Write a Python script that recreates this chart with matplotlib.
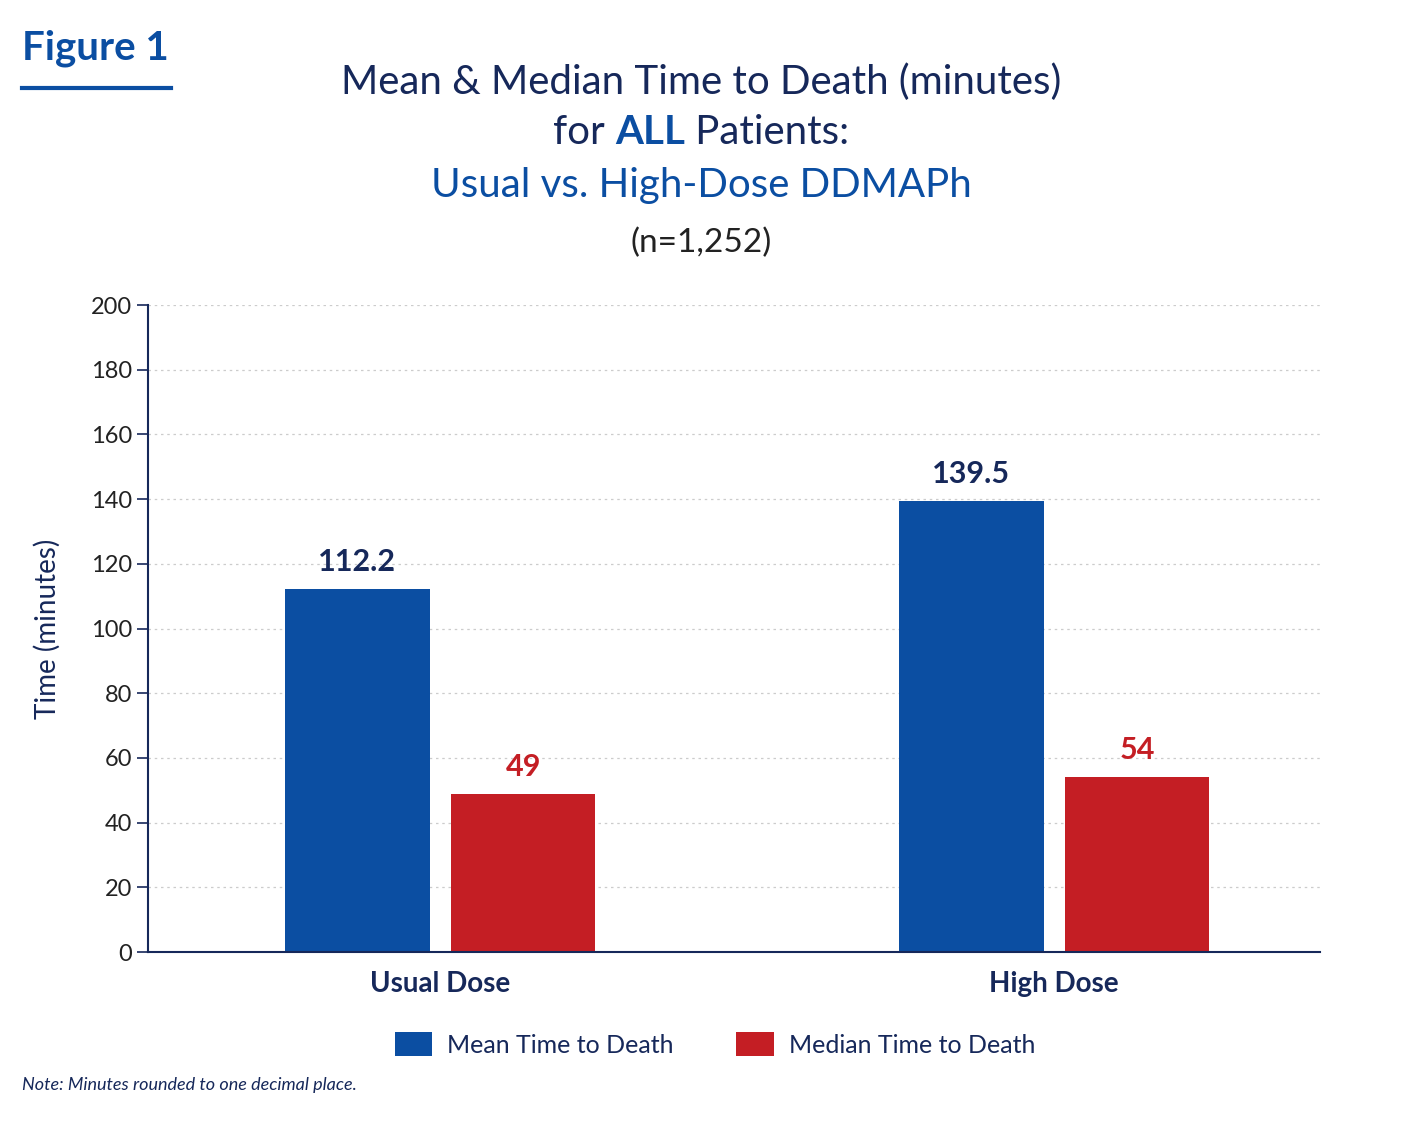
import matplotlib
matplotlib.use("Agg")
import matplotlib.pyplot as plt
import numpy as np

groups = ["Usual Dose", "High Dose"]
mean_vals = [112.2, 139.5]
median_vals = [49, 54]
mean_labels = ["112.2", "139.5"]
median_labels = ["49", "54"]
yticks = [0, 20, 40, 60, 80, 100, 120, 140, 160, 180, 200]

NAVY = "#16285a"
BLUE = "#0b4ea2"
RED = "#c41e24"
plt.rcParams["font.family"] = ["Lato", "DejaVu Sans"]

fig = plt.figure(figsize=(14.02, 11.22), dpi=100)
ax = fig.add_axes([0.1056, 0.1515, 0.836, 0.5766])

x = np.arange(len(groups))
off, w = 0.135, 0.235
b1 = ax.bar(x - off, mean_vals, w, color=BLUE, label="Mean Time to Death")
b2 = ax.bar(x + off, median_vals, w, color=RED, label="Median Time to Death")
for xi, v, t in zip(x - off, mean_vals, mean_labels):
    ax.text(xi, v + 4, t, ha="center", va="bottom", fontsize=22, fontweight="bold", color=NAVY)
for xi, v, t in zip(x + off, median_vals, median_labels):
    ax.text(xi, v + 4, t, ha="center", va="bottom", fontsize=22, fontweight="bold", color=RED)

ax.set_xlim(-0.476, 1.433)
ax.set_ylim(0, 200)
ax.set_yticks(yticks)
ax.tick_params(axis="y", labelsize=17, colors="#222222", length=8, width=1.2, direction="out")
ax.tick_params(axis="y", colors=NAVY, labelcolor="#222222")
ax.set_xticks(x)
ax.set_xticklabels(groups, fontsize=20, fontweight="bold", color=NAVY)
ax.tick_params(axis="x", length=0, pad=14)
ax.grid(axis="y", linestyle=(0, (2, 3)), color="#cccccc", linewidth=0.9)
ax.set_axisbelow(True)
for s in ["top", "right"]:
    ax.spines[s].set_visible(False)
for s in ["left", "bottom"]:
    ax.spines[s].set_color(NAVY)
    ax.spines[s].set_linewidth(1.5)
ax.set_ylabel("Time (minutes)", fontsize=20, color=NAVY, labelpad=22)

leg = fig.legend(handles=[b1, b2], loc="center", bbox_to_anchor=(0.51, 0.069), ncol=2,
                 frameon=False, fontsize=18, handlelength=1.5, handleheight=1.1,
                 columnspacing=2.5, handletextpad=0.6)
for t in leg.get_texts():
    t.set_color(NAVY)

# header
fig.text(22 / 1402, 1 - 48 / 1122, "Figure 1", fontsize=29, fontweight="bold", color=BLUE, va="center")
fig.add_artist(plt.Line2D([22 / 1402, 171 / 1402], [1 - 88 / 1122] * 2, color=BLUE, lw=3))
fig.text(0.5, 1 - 82 / 1122, "Mean & Median Time to Death (minutes)", fontsize=29, color=NAVY, ha="center", va="center")
fig.text(0.5, 1 - 186 / 1122, "Usual vs. High-Dose DDMAPh", fontsize=29, color=BLUE, ha="center", va="center")
fig.text(0.5, 1 - 243 / 1122, "(n=1,252)", fontsize=24, color="#222222", ha="center", va="center")

# mixed-style line 2
y2 = 1 - 133 / 1122
parts = [("for ", "normal", NAVY), ("ALL", "bold", BLUE), (" Patients:", "normal", NAVY)]
texts = [fig.text(0, y2, p, fontsize=29, fontweight=fw, color=c, va="center") for p, fw, c in parts]
r = fig.canvas.get_renderer()
widths = [t.get_window_extent(r).width / fig.bbox.width for t in texts]
xs = 0.5 - sum(widths) / 2
for t, wd in zip(texts, widths):
    t.set_x(xs)
    xs += wd

fig.text(22 / 1402, 1 - 1085 / 1122, "Note: Minutes rounded to one decimal place.", fontsize=13,
         style="italic", color=NAVY, va="center")

fig.savefig("out.png", dpi=100)
